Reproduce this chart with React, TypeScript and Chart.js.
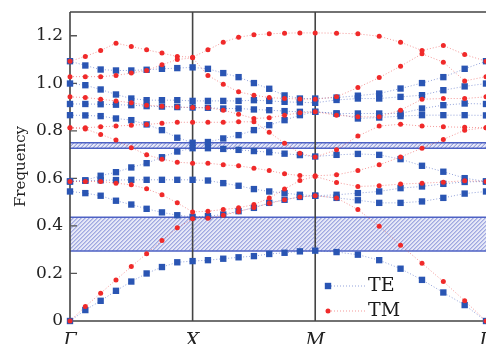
import { useEffect, useRef } from "react";
import { Chart, registerables } from "chart.js";
Chart.register(...registerables);

// k-path positions (Γ → X → M → Γ)
const kPoints = [
  0, 0.125, 0.25, 0.375, 0.5, 0.625, 0.75, 0.875, 1,
  1.125, 1.25, 1.375, 1.5, 1.625, 1.75, 1.875, 2,
  2.174, 2.348, 2.522, 2.696, 2.871, 3.045, 3.219, 3.393,
];
const kTickValues = [0, 1, 2, 3.393];
const kTickLabels = ["Γ", "X", "M", "Γ"];
const yTickValues = [0, 0.2, 0.4, 0.6, 0.8, 1.0, 1.2];
const gapRanges = [
  [0.294, 0.436],
  [0.727, 0.75],
];

// TE bands (blue squares)
const te1 = [0, 0.046, 0.085, 0.127, 0.166, 0.2, 0.227, 0.247, 0.252, 0.256, 0.262, 0.268, 0.273, 0.282, 0.287, 0.293, 0.296, 0.29, 0.279, 0.256, 0.22, 0.173, 0.12, 0.067, 0];
const te2 = [0.545, 0.538, 0.527, 0.506, 0.49, 0.472, 0.457, 0.445, 0.438, 0.441, 0.448, 0.462, 0.476, 0.497, 0.51, 0.522, 0.527, 0.518, 0.508, 0.497, 0.497, 0.503, 0.518, 0.536, 0.545];
const te3 = [0.587, 0.59, 0.592, 0.593, 0.594, 0.594, 0.594, 0.594, 0.594, 0.591, 0.58, 0.569, 0.555, 0.545, 0.538, 0.531, 0.527, 0.531, 0.538, 0.545, 0.559, 0.566, 0.577, 0.585, 0.587];
const te4 = [0.587, 0.592, 0.611, 0.626, 0.646, 0.664, 0.689, 0.713, 0.727, 0.727, 0.724, 0.72, 0.715, 0.71, 0.704, 0.698, 0.692, 0.699, 0.703, 0.699, 0.681, 0.653, 0.628, 0.601, 0.587];
const te5 = [0.866, 0.865, 0.862, 0.852, 0.845, 0.827, 0.803, 0.771, 0.75, 0.753, 0.768, 0.782, 0.803, 0.824, 0.845, 0.866, 0.88, 0.873, 0.852, 0.856, 0.862, 0.866, 0.866, 0.866, 0.865];
const te6 = [0.913, 0.913, 0.912, 0.91, 0.908, 0.904, 0.902, 0.9, 0.898, 0.897, 0.894, 0.894, 0.89, 0.887, 0.883, 0.88, 0.88, 0.873, 0.873, 0.873, 0.873, 0.894, 0.908, 0.915, 0.913];
const te7 = [0.999, 0.992, 0.974, 0.953, 0.936, 0.929, 0.929, 0.929, 0.926, 0.926, 0.926, 0.926, 0.929, 0.926, 0.922, 0.92, 0.918, 0.93, 0.936, 0.936, 0.943, 0.95, 0.971, 0.987, 0.999];
const te8 = [1.093, 1.075, 1.058, 1.054, 1.054, 1.057, 1.061, 1.064, 1.067, 1.061, 1.043, 1.026, 1.001, 0.977, 0.949, 0.936, 0.936, 0.94, 0.948, 0.957, 0.978, 1.001, 1.026, 1.061, 1.093];

// TM bands (red circles)
const tm1 = [0, 0.061, 0.117, 0.173, 0.229, 0.283, 0.339, 0.392, 0.43, 0.432, 0.445, 0.46, 0.478, 0.495, 0.51, 0.522, 0.527, 0.518, 0.469, 0.399, 0.319, 0.243, 0.166, 0.085, 0];
const tm2 = [0.587, 0.587, 0.587, 0.58, 0.573, 0.556, 0.531, 0.497, 0.459, 0.462, 0.469, 0.476, 0.49, 0.517, 0.555, 0.591, 0.608, 0.583, 0.566, 0.569, 0.576, 0.58, 0.584, 0.59, 0.587];
const tm3 = [0.813, 0.808, 0.785, 0.761, 0.729, 0.699, 0.681, 0.668, 0.664, 0.664, 0.657, 0.653, 0.643, 0.633, 0.619, 0.612, 0.611, 0.615, 0.633, 0.657, 0.69, 0.727, 0.764, 0.803, 0.813];
const tm4 = [0.813, 0.813, 0.817, 0.82, 0.824, 0.827, 0.832, 0.836, 0.836, 0.836, 0.836, 0.838, 0.838, 0.794, 0.748, 0.706, 0.69, 0.72, 0.778, 0.82, 0.828, 0.82, 0.817, 0.815, 0.813];
const tm5 = [0.943, 0.94, 0.933, 0.926, 0.918, 0.908, 0.904, 0.9, 0.898, 0.897, 0.887, 0.87, 0.852, 0.855, 0.866, 0.876, 0.88, 0.866, 0.859, 0.859, 0.887, 0.933, 0.936, 0.936, 0.943];
const tm6 = [1.028, 1.028, 1.028, 1.033, 1.043, 1.054, 1.078, 1.1, 1.107, 1.033, 0.996, 0.964, 0.95, 0.94, 0.936, 0.934, 0.933, 0.943, 0.982, 1.024, 1.072, 1.124, 1.089, 1.01, 1.028];
const tm7 = [1.093, 1.113, 1.138, 1.169, 1.155, 1.141, 1.127, 1.113, 1.11, 1.141, 1.173, 1.194, 1.204, 1.208, 1.211, 1.212, 1.212, 1.211, 1.208, 1.198, 1.173, 1.138, 1.159, 1.121, 1.093];

const teBands = [te1, te2, te3, te4, te5, te6, te7, te8];
const tmBands = [tm1, tm2, tm3, tm4, tm5, tm6, tm7];

const BLUE = "#2a55b3";
const BLUE_LINE = "rgba(60,90,190,0.55)";
const RED = "#f02a2a";
const RED_LINE = "rgba(235,70,70,0.55)";
const SERIF = "'DejaVu Serif', serif";

const decorPlugin = {
  id: "decor",
  beforeDatasetsDraw(chart: any) {
    const { ctx, chartArea: a, scales } = chart;
    const ys = scales.y;
    const xs = scales.x;
    for (const [lo, hi] of gapRanges) {
      const yTop = ys.getPixelForValue(hi);
      const yBot = ys.getPixelForValue(lo);
      const h = yBot - yTop;
      ctx.save();
      ctx.beginPath();
      ctx.rect(a.left, yTop, a.right - a.left, h);
      ctx.clip();
      ctx.fillStyle = "#e6e8f7";
      ctx.fillRect(a.left, yTop, a.right - a.left, h);
      ctx.strokeStyle = "rgba(95,110,205,0.8)";
      ctx.lineWidth = 1;
      ctx.beginPath();
      for (let x = a.left - h; x < a.right + h; x += 4) {
        ctx.moveTo(x, yBot);
        ctx.lineTo(x + h, yTop);
      }
      ctx.stroke();
      ctx.restore();
      ctx.save();
      ctx.strokeStyle = "#4e62c4";
      ctx.lineWidth = 1.5;
      ctx.beginPath();
      ctx.moveTo(a.left, yTop);
      ctx.lineTo(a.right, yTop);
      ctx.moveTo(a.left, yBot);
      ctx.lineTo(a.right, yBot);
      ctx.stroke();
      ctx.restore();
    }
    ctx.save();
    ctx.strokeStyle = "#444";
    ctx.lineWidth = 1.6;
    ctx.beginPath();
    ctx.moveTo(a.left, a.top);
    ctx.lineTo(a.right, a.top);
    ctx.moveTo(a.left, a.top);
    ctx.lineTo(a.left, a.bottom);
    ctx.moveTo(a.left, a.bottom);
    ctx.lineTo(a.right, a.bottom);
    for (const v of kTickValues.slice(1, 3)) {
      const px = xs.getPixelForValue(v);
      ctx.moveTo(px, a.top);
      ctx.lineTo(px, a.bottom);
    }
    ctx.stroke();
    ctx.strokeStyle = "#555";
    ctx.lineWidth = 1.3;
    ctx.beginPath();
    for (const v of yTickValues) {
      if (v === 0) continue;
      const py = ys.getPixelForValue(v);
      ctx.moveTo(a.left, py);
      ctx.lineTo(a.left + 7, py);
    }
    ctx.stroke();
    ctx.restore();
  },
  afterDraw(chart: any) {
    const { ctx, chartArea: a, scales } = chart;
    const xs = scales.x;
    ctx.save();
    ctx.fillStyle = "#222";
    ctx.font = `italic 19px ${SERIF}`;
    ctx.textAlign = "center";
    ctx.textBaseline = "alphabetic";
    kTickValues.forEach((v, i) => {
      ctx.fillText(kTickLabels[i], xs.getPixelForValue(v), 346);
    });
    ctx.save();
    ctx.translate(21, (a.top + a.bottom) / 2);
    ctx.rotate(-Math.PI / 2);
    ctx.font = `15px ${SERIF}`;
    ctx.textAlign = "center";
    ctx.textBaseline = "middle";
    ctx.fillText("Frequency", 0, 0);
    ctx.restore();
    const items = [
      { label: "TE", color: BLUE, line: BLUE_LINE, style: "rect", y: 286 },
      { label: "TM", color: RED, line: RED_LINE, style: "circle", y: 311 },
    ];
    for (const it of items) {
      ctx.save();
      ctx.strokeStyle = it.line;
      ctx.lineWidth = 1;
      ctx.setLineDash([1, 2]);
      ctx.beginPath();
      ctx.moveTo(328, it.y);
      ctx.lineTo(365, it.y);
      ctx.stroke();
      ctx.restore();
      ctx.fillStyle = it.color;
      if (it.style === "rect") {
        ctx.fillRect(328 - 3.2, it.y - 3.2, 6.4, 6.4);
      } else {
        ctx.beginPath();
        ctx.arc(328, it.y, 2.5, 0, Math.PI * 2);
        ctx.fill();
      }
      ctx.fillStyle = "#1a1a1a";
      ctx.font = `19px ${SERIF}`;
      ctx.textAlign = "left";
      ctx.textBaseline = "middle";
      ctx.fillText(it.label, 368, it.y);
    }
    ctx.restore();
  },
};

export default function App() {
  const ref = useRef<HTMLCanvasElement | null>(null);
  useEffect(() => {
    if (!ref.current) return;
    const mk = (b: number[]) => kPoints.map((k, j) => ({ x: k, y: b[j] }));
    const datasets: any[] = [
      ...teBands.map((b, i) => ({
        label: `TE${i + 1}`,
        data: mk(b),
        borderColor: BLUE_LINE,
        borderWidth: 1,
        borderDash: [1, 2],
        backgroundColor: BLUE,
        pointBackgroundColor: BLUE,
        pointBorderColor: BLUE,
        pointBorderWidth: 0,
        pointStyle: "rect",
        pointRadius: 4.5,
        showLine: true,
        tension: 0,
        clip: false,
        order: 1,
      })),
      ...tmBands.map((b, i) => ({
        label: `TM${i + 1}`,
        data: mk(b),
        borderColor: RED_LINE,
        borderWidth: 1,
        borderDash: [1, 2],
        backgroundColor: RED,
        pointBackgroundColor: RED,
        pointBorderColor: RED,
        pointBorderWidth: 0,
        pointStyle: "circle",
        pointRadius: 2.5,
        showLine: true,
        tension: 0,
        clip: false,
        order: 0,
      })),
    ];
    const chart = new Chart(ref.current, {
      type: "scatter",
      data: { datasets },
      options: {
        responsive: false,
        animation: false,
        devicePixelRatio: 1,
        layout: { autoPadding: false, padding: { top: 12, left: 0, right: 0, bottom: 0 } },
        plugins: { legend: { display: false }, tooltip: { enabled: false } },
        scales: {
          x: {
            type: "linear",
            min: 0,
            max: 3.393,
            ticks: { display: false },
            grid: { display: false, drawTicks: false },
            border: { display: false },
            afterFit: (s: any) => {
              s.height = 23;
              s.paddingLeft = 0;
              s.paddingRight = 0;
              s.paddingTop = 0;
              s.paddingBottom = 0;
            },
          },
          y: {
            type: "linear",
            min: 0,
            max: 1.3,
            ticks: {
              stepSize: 0.2,
              includeBounds: false,
              padding: 7,
              color: "#222",
              font: { family: SERIF, size: 17 },
              callback: (v: any) => (Math.abs(v) < 1e-9 ? "0" : Number(v).toFixed(1)),
            },
            grid: { display: false, drawTicks: false },
            border: { display: false },
            afterFit: (s: any) => {
              s.width = 70;
              s.paddingTop = 0;
              s.paddingBottom = 0;
              s.paddingLeft = 0;
              s.paddingRight = 0;
            },
          },
        },
      },
      plugins: [decorPlugin],
    });
    return () => chart.destroy();
  }, []);
  return (
    <div style={{ position: "absolute", left: 0, top: 0, width: 486, height: 344, background: "#fff" }}>
      <canvas ref={ref} width={486} height={344} style={{ display: "block", width: 486, height: 344 }} />
    </div>
  );
}
